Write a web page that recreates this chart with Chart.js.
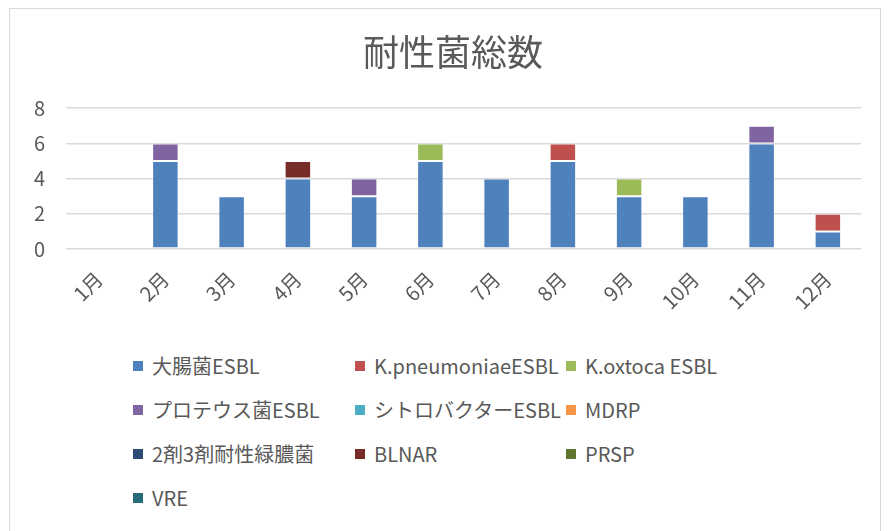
<!DOCTYPE html>
<html lang="ja">
<head>
<meta charset="UTF-8">
<title>耐性菌総数</title>
<script src="https://cdn.jsdelivr.net/npm/chart.js"></script>
<style>
  html, body { margin: 0; padding: 0; background: #fff; }
  body { width: 893px; height: 531px; position: relative; overflow: hidden; font-family: "Noto Sans CJK JP", "Noto Sans", sans-serif; }
  #frame { position: absolute; left: 9px; top: 8px; width: 872px; height: 540px; border: 1px solid #d9d9d9; box-sizing: border-box; }
  #wrap { position: absolute; left: 0; top: 0; width: 906px; height: 335px; }
  #legend { position: absolute; left: 0; top: 0; }
  .item { position: absolute; display: flex; align-items: center; font-size: 20px; color: #595959; white-space: nowrap; }
  .box { width: 10px; height: 10px; margin-right: 9px; }
</style>
</head>
<body>
<div id="frame"></div>
<div id="wrap"><canvas id="chart"></canvas></div>
<div id="legend"></div>
<script>
const months = ['1月','2月','3月','4月','5月','6月','7月','8月','9月','10月','11月','12月'];
const seriesNames = ['大腸菌ESBL','K.pneumoniaeESBL','K.oxtoca ESBL','プロテウス菌ESBL','シトロバクターESBL','MDRP','2剤3剤耐性緑膿菌','BLNAR','PRSP','VRE'];
const seriesColors = ['#4F81BD','#C0504D','#9BBB59','#8064A2','#4BACC6','#F79646','#2C4D75','#772C2A','#5F7530','#276A7C'];
const ecoli      = [0,5,3,4,3,5,4,5,3,3,6,1];
const kpneu      = [0,0,0,0,0,0,0,1,0,0,0,1];
const koxy       = [0,0,0,0,0,1,0,0,1,0,0,0];
const proteus    = [0,1,0,0,1,0,0,0,0,0,1,0];
const citro      = [0,0,0,0,0,0,0,0,0,0,0,0];
const mdrp       = [0,0,0,0,0,0,0,0,0,0,0,0];
const pseudo     = [0,0,0,0,0,0,0,0,0,0,0,0];
const blnar      = [0,0,0,1,0,0,0,0,0,0,0,0];
const prsp       = [0,0,0,0,0,0,0,0,0,0,0,0];
const vre        = [0,0,0,0,0,0,0,0,0,0,0,0];
const yTicks = [0,2,4,6,8];

const allData = [ecoli,kpneu,koxy,proteus,citro,mdrp,pseudo,blnar,prsp,vre];
const txt = '#595959';
const font = '"Noto Sans CJK JP", "Noto Sans", sans-serif';

const datasets = allData.map((d, i) => ({
  label: seriesNames[i],
  data: d,
  backgroundColor: seriesColors[i],
  borderColor: 'rgba(255,255,255,0.25)',
  borderWidth: 1,
  borderSkipped: false,
  barPercentage: 0.8,
  categoryPercentage: 0.5
}));

const ctx = document.getElementById('chart').getContext('2d');
new Chart(ctx, {
  type: 'bar',
  data: { labels: months, datasets: datasets },
  options: {
    responsive: true,
    maintainAspectRatio: false,
    animation: false,
    layout: { padding: 0 },
    plugins: {
      legend: { display: false },
      tooltip: { enabled: false },
      title: {
        display: true,
        text: '耐性菌総数',
        color: txt,
        font: { family: font, size: 36, weight: 'normal' },
        padding: { top: 31, bottom: 34 }
      }
    },
    scales: {
      x: {
        stacked: true,
        grid: { display: false },
        border: { display: false },
        ticks: { color: txt, font: { family: font, size: 20 }, minRotation: 45, maxRotation: 45, padding: 10 },
        afterFit: s => { s.height = 86; }
      },
      y: {
        stacked: true,
        min: 0, max: 8,
        afterBuildTicks: s => { s.ticks = yTicks.map(v => ({ value: v })); },
        grid: { color: '#d9d9d9', lineWidth: 1.5, drawTicks: false },
        border: { display: false },
        ticks: { color: txt, font: { family: font, size: 20 }, padding: 21 },
        afterFit: s => { s.width = 66; }
      },
      // empty right-hand spacer so the plot ends where the original does
      spacer: {
        position: 'right',
        grid: { display: false },
        border: { display: false },
        ticks: { display: false },
        afterFit: s => { s.width = 45; }
      }
    }
  }
});

// legend laid out in three columns like the original
const legend = document.getElementById('legend');
const colX = [133, 355, 566];
const rowY = [366, 410, 454, 498];
seriesNames.forEach((name, i) => {
  const el = document.createElement('div');
  el.className = 'item';
  el.style.left = colX[i % 3] + 'px';
  el.style.top = (rowY[Math.floor(i / 3)] - 15) + 'px';
  el.innerHTML = '<span class="box" style="background:' + seriesColors[i] + '"></span>' + name;
  legend.appendChild(el);
});
</script>
</body>
</html>
